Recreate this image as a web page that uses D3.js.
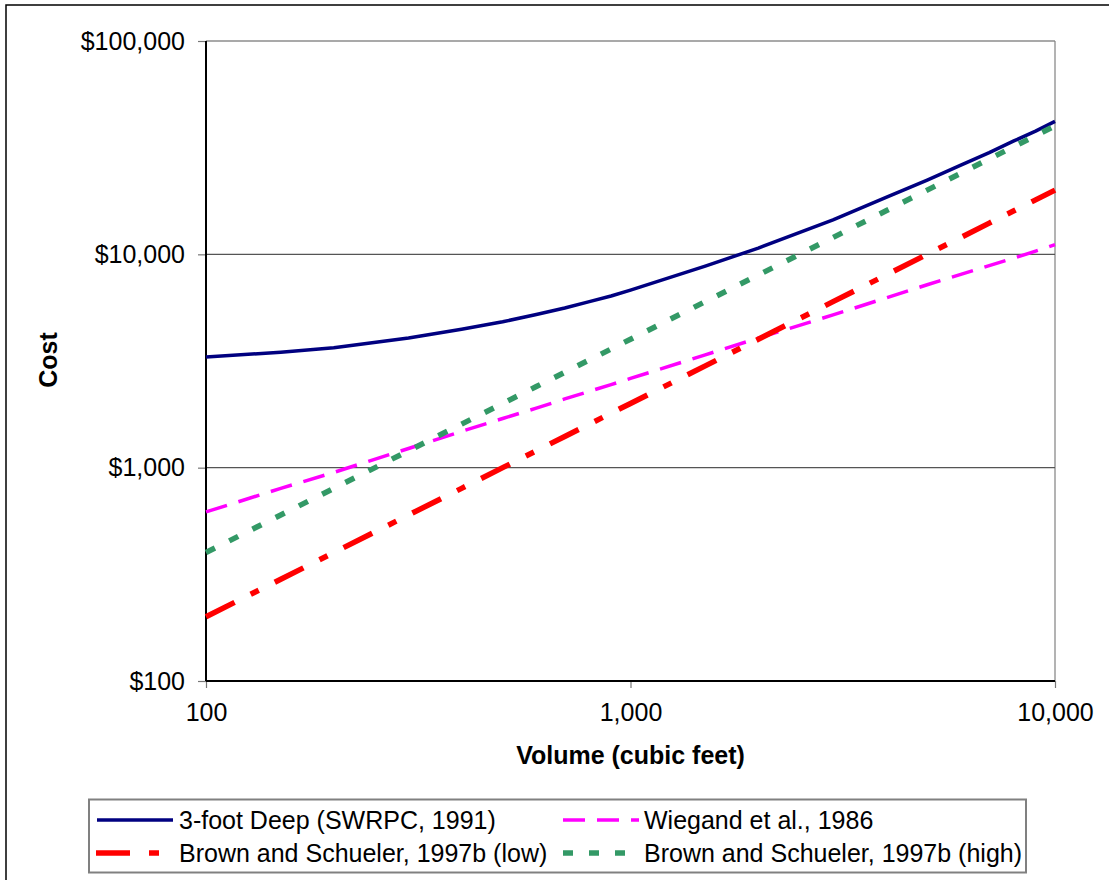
<!DOCTYPE html>
<html>
<head>
<meta charset="utf-8">
<script src="https://cdn.jsdelivr.net/npm/d3@7/dist/d3.min.js"></script>
<style>
  html, body { margin: 0; padding: 0; background: #fff; }
  svg { display: block; font-family: "Liberation Sans", Arial, sans-serif; }
</style>
</head>
<body>
<svg id="chart" width="1109" height="880"></svg>
<script>
// Storage volume (cubic feet) at which each cost curve is sampled
const volumes = [100, 150, 200, 300, 400, 500, 600, 700, 800, 900, 1000,
                 1500, 2000, 3000, 4000, 5000, 6000, 7000, 8000, 9000, 10000];

// Construction cost ($) for each source
const costSWRPC     = [3300, 3480, 3650, 4050, 4450, 4830, 5220, 5600, 6000, 6380, 6800,
                       8800, 10700, 14500, 18500, 22300, 26200, 30000, 34000, 37800, 42000];
const costWiegand   = [620, 800, 950, 1230, 1480, 1700, 1900, 2100, 2280, 2450, 2620,
                       3380, 4050, 5200, 6250, 7200, 8050, 8850, 9600, 10350, 11100];
const costBrownLow  = [200, 300, 400, 600, 800, 1000, 1200, 1400, 1600, 1800, 2000,
                       3000, 4000, 6000, 8000, 10000, 12000, 14000, 16000, 18000, 20000];
const costBrownHigh = [400, 600, 800, 1200, 1600, 2000, 2400, 2800, 3200, 3600, 4000,
                       6000, 8000, 12000, 16000, 20000, 24000, 28000, 32000, 36000, 40000];

const seriesNames = ["3-foot Deep (SWRPC, 1991)", "Wiegand et al., 1986",
                     "Brown and Schueler, 1997b (low)", "Brown and Schueler, 1997b (high)"];

const xTicks = [100, 1000, 10000];
const xTickLabels = ["100", "1,000", "10,000"];
const yTicks = [100, 1000, 10000, 100000];
const yTickLabels = ["$100", "$1,000", "$10,000", "$100,000"];

const series = [
  { name: seriesNames[0], values: costSWRPC,     color: "#000080", width: 3.5, dash: null,          legendDash: null },
  { name: seriesNames[1], values: costWiegand,   color: "#FF00FF", width: 3.5, dash: "22,12",       legendDash: "22,12" },
  { name: seriesNames[2], values: costBrownLow,  color: "#FF0000", width: 5.5, dash: "32,18,9,18",  legendDash: "34,19,10,19" },
  { name: seriesNames[3], values: costBrownHigh, color: "#339966", width: 5.5, dash: "10,16",       legendDash: "10,16" }
];

const FONT = 25;
const svg = d3.select("#chart");
const plot = { left: 206, right: 1055, top: 41, bottom: 681 };

// Outer chart-area frame
svg.append("rect")
  .attr("x", 6).attr("y", 5).attr("width", 1200).attr("height", 1000)
  .attr("fill", "none").attr("stroke", "#000").attr("stroke-width", 1.5);

const x = d3.scaleLog().domain([100, 10000]).range([plot.left, plot.right]);
const y = d3.scaleLog().domain([100, 100000]).range([plot.bottom, plot.top]);

// Plot frame (top/right) and horizontal gridlines
svg.append("line")
  .attr("x1", plot.left).attr("x2", plot.right).attr("y1", plot.top).attr("y2", plot.top)
  .attr("stroke", "#555").attr("stroke-width", 1.2);
svg.append("line")
  .attr("x1", plot.right).attr("x2", plot.right).attr("y1", plot.top).attr("y2", plot.bottom)
  .attr("stroke", "#808080").attr("stroke-width", 1.2);
svg.append("g").selectAll("line")
  .data(yTicks.slice(1, -1))
  .join("line")
  .attr("x1", plot.left).attr("x2", plot.right)
  .attr("y1", d => y(d)).attr("y2", d => y(d))
  .attr("stroke", "#555").attr("stroke-width", 1.2);

// Axes
const yAxis = d3.axisLeft(y)
  .tickValues(yTicks)
  .tickFormat((d, i) => yTickLabels[i])
  .tickSize(8).tickPadding(13);
const gy = svg.append("g").attr("transform", `translate(${plot.left},0)`).call(yAxis);

const xAxis = d3.axisBottom(x)
  .tickValues(xTicks)
  .tickFormat((d, i) => xTickLabels[i])
  .tickSize(7).tickPadding(15);
const gx = svg.append("g").attr("transform", `translate(0,${plot.bottom})`).call(xAxis);

[gx, gy].forEach(g => {
  g.select(".domain").remove();
  g.selectAll(".tick line").attr("stroke", "#777").attr("stroke-width", 1.2);
  g.selectAll(".tick text").attr("font-size", FONT).attr("fill", "#000")
    .attr("font-family", "'Liberation Sans', Arial, sans-serif");
});

// Left and bottom axis lines
svg.append("line")
  .attr("x1", plot.left).attr("x2", plot.left).attr("y1", plot.top).attr("y2", plot.bottom)
  .attr("stroke", "#000").attr("stroke-width", 2);
svg.append("line")
  .attr("x1", plot.left).attr("x2", plot.right).attr("y1", plot.bottom).attr("y2", plot.bottom)
  .attr("stroke", "#000").attr("stroke-width", 2);

// Axis titles
svg.append("text")
  .attr("x", (plot.left + plot.right) / 2).attr("y", 764)
  .attr("text-anchor", "middle").attr("font-size", FONT).attr("font-weight", "bold")
  .text("Volume (cubic feet)");
svg.append("text")
  .attr("transform", "translate(57,360) rotate(-90)")
  .attr("text-anchor", "middle").attr("font-size", FONT).attr("font-weight", "bold")
  .text("Cost");

// Cost curves
const line = d3.line()
  .x((d, i) => x(volumes[i]))
  .y(d => y(d));

svg.append("g").selectAll("path")
  .data(series)
  .join("path")
  .attr("d", d => line(d.values))
  .attr("fill", "none")
  .attr("stroke", d => d.color)
  .attr("stroke-width", d => d.width)
  .attr("stroke-dasharray", d => d.dash)
  .attr("stroke-linejoin", "round");

// Legend
const legend = svg.append("g");
legend.append("rect")
  .attr("x", 89).attr("y", 799.5).attr("width", 937).attr("height", 73)
  .attr("fill", "#fff").attr("stroke", "#808080").attr("stroke-width", 2);

const legendPos = [
  { lx: 97,  ly: 820, tx: 179 },
  { lx: 563, ly: 820, tx: 644 },
  { lx: 96,  ly: 853, tx: 179 },
  { lx: 563, ly: 853, tx: 644 }
];

series.forEach((s, i) => {
  const p = legendPos[i];
  legend.append("line")
    .attr("x1", p.lx).attr("x2", p.lx + 76)
    .attr("y1", p.ly).attr("y2", p.ly)
    .attr("stroke", s.color).attr("stroke-width", s.width)
    .attr("stroke-dasharray", s.legendDash);
  legend.append("text")
    .attr("x", p.tx).attr("y", p.ly + 9)
    .attr("font-size", FONT).attr("fill", "#000")
    .text(s.name);
});
</script>
</body>
</html>
